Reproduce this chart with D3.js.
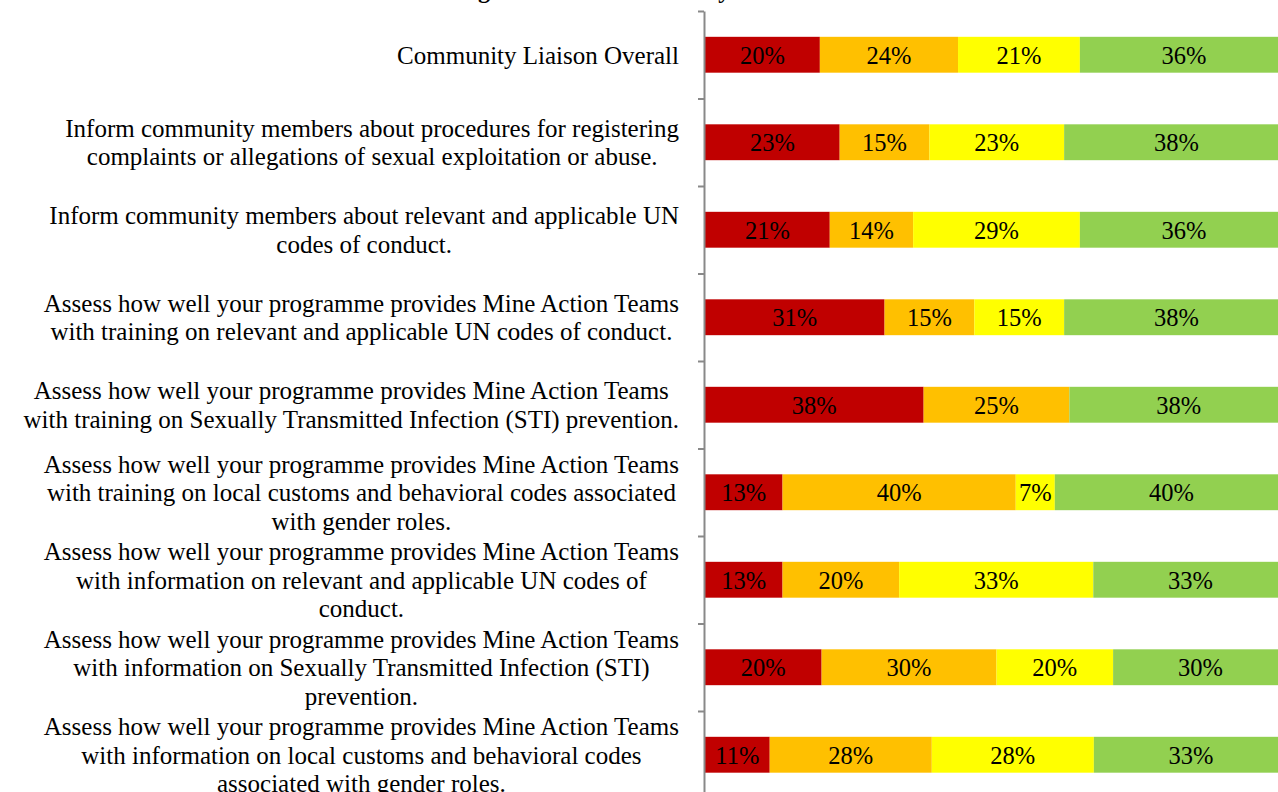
<!DOCTYPE html>
<head>
<meta charset="utf-8">
<style>
body { margin:0; background:#fff; }
svg { display:block; overflow:hidden; }
.cat { font-family:"Liberation Serif", "Times New Roman", serif; font-size:25px; fill:#000; }
.lbl { font-family:"Liberation Serif", "Times New Roman", serif; font-size:24.5px; fill:#000; }
.ttl { font-family:"Liberation Serif", "Times New Roman", serif; font-size:24px; font-weight:bold; fill:#000; }
.axis path, .axis line { stroke:#898989; stroke-width:2; }
</style>
</head>
<body>
<div id="chart"></div>
<script src="https://d3js.org/d3.v7.min.js"></script>
<script>

// categories (each item is the wrapped lines of one axis label)
var categories = [
  ["Community Liaison Overall"],
  ["Inform community members about procedures for registering", "complaints or allegations of sexual exploitation or abuse."],
  ["Inform community members about relevant and applicable UN", "codes of conduct."],
  ["Assess how well your programme provides Mine Action Teams", "with training on relevant and applicable UN codes of conduct."],
  ["Assess how well your programme provides Mine Action Teams", "with training on Sexually Transmitted Infection (STI) prevention."],
  ["Assess how well your programme provides Mine Action Teams", "with training on local customs and behavioral codes associated", "with gender roles."],
  ["Assess how well your programme provides Mine Action Teams", "with information on relevant and applicable UN codes of", "conduct."],
  ["Assess how well your programme provides Mine Action Teams", "with information on Sexually Transmitted Infection (STI)", "prevention."],
  ["Assess how well your programme provides Mine Action Teams", "with information on local customs and behavioral codes", "associated with gender roles."]
];

// percent of answers per rating, top row first
var redValues    = [19.7, 23.1, 21.4, 30.8, 37.5, 13.3, 13.3, 20.0, 11.1];
var orangeValues = [23.7, 15.4, 14.3, 15.4, 25.0, 40.0, 20.0, 30.0, 27.8];
var yellowValues = [20.9, 23.1, 28.6, 15.4,  0.0,  6.7, 33.3, 20.0, 27.8];
var greenValues  = [35.7, 38.5, 35.7, 38.5, 37.5, 40.0, 33.3, 30.0, 33.3];

var seriesKeys   = ["red", "orange", "yellow", "green"];
var seriesColors = ["#C00000", "#FFC000", "#FFFF00", "#92D050"];

var W = 1278, H = 792;
var margin = {top: 11, left: 705},
    plotW = 583,
    plotH = 787.5;

var data = categories.map(function(lines, i) {
  return {
    name: lines.join(" "),
    lines: lines,
    red: redValues[i], orange: orangeValues[i], yellow: yellowValues[i], green: greenValues[i]
  };
});

var svg = d3.select("#chart").append("svg")
    .attr("width", W)
    .attr("height", H);

// title sits mostly above the visible area, only descenders show
svg.append("text")
    .attr("class", "ttl")
    .attr("x", 401)
    .attr("y", -2)
    .text("Training and Gender Sensitivity");

var x = d3.scaleLinear().domain([0, 100]).range([margin.left, margin.left + plotW]);
var y = d3.scaleBand()
    .domain(data.map(function(d) { return d.name; }))
    .range([margin.top, margin.top + plotH])
    .paddingInner(0.59)
    .paddingOuter(0.295);

var color = d3.scaleOrdinal().domain(seriesKeys).range(seriesColors);

var stacked = d3.stack().keys(seriesKeys)(data);

var layer = svg.selectAll(".layer")
  .data(stacked)
  .enter().append("g")
    .attr("class", "layer")
    .attr("fill", function(s) { return color(s.key); });

layer.selectAll("rect")
  .data(function(s) { return s; })
  .enter().append("rect")
    .attr("x", function(d) { return x(d[0]); })
    .attr("y", function(d) { return y(d.data.name); })
    .attr("width", function(d) { return x(d[1]) - x(d[0]); })
    .attr("height", y.bandwidth());

layer.selectAll(".lbl")
  .data(function(s) { return s.filter(function(d) { return d[1] - d[0] > 0; }); })
  .enter().append("text")
    .attr("class", "lbl")
    .attr("text-anchor", "middle")
    .attr("x", function(d) { return (x(d[0]) + x(d[1])) / 2; })
    .attr("y", function(d) { return y(d.data.name) + y.bandwidth() / 2; })
    .attr("dy", "0.36em")
    .text(function(d) { return Math.round(d[1] - d[0]) + "%"; });

// category axis: line with ticks between the categories
var yTicks = d3.scaleLinear().domain([0, data.length]).range([margin.top, margin.top + plotH]);
svg.append("g")
    .attr("class", "axis")
    .attr("transform", "translate(" + (margin.left - 1) + ",0)")
    .call(d3.axisLeft(yTicks).tickValues(d3.range(data.length + 1)).tickFormat("").tickSize(6).tickSizeOuter(0));

// wrapped labels: lines centred on each other, block right aligned
var labelRight = 679, lineH = 28.5;
var cat = svg.selectAll(".catg")
  .data(data)
  .enter().append("g")
    .attr("class", "catg");

cat.each(function(d) {
  var g = d3.select(this);
  var cy = y(d.name) + y.bandwidth() / 2;
  var n = d.lines.length;
  var texts = g.selectAll("text")
    .data(d.lines)
    .enter().append("text")
      .attr("class", "cat")
      .attr("text-anchor", "middle")
      .attr("y", function(l, i) { return cy + (i - (n - 1) / 2) * lineH; })
      .attr("dy", "0.35em")
      .text(function(l) { return l; });
  var maxW = 0;
  texts.each(function() { maxW = Math.max(maxW, this.getComputedTextLength()); });
  texts.attr("x", labelRight - maxW / 2);
});

</script>
</body>
